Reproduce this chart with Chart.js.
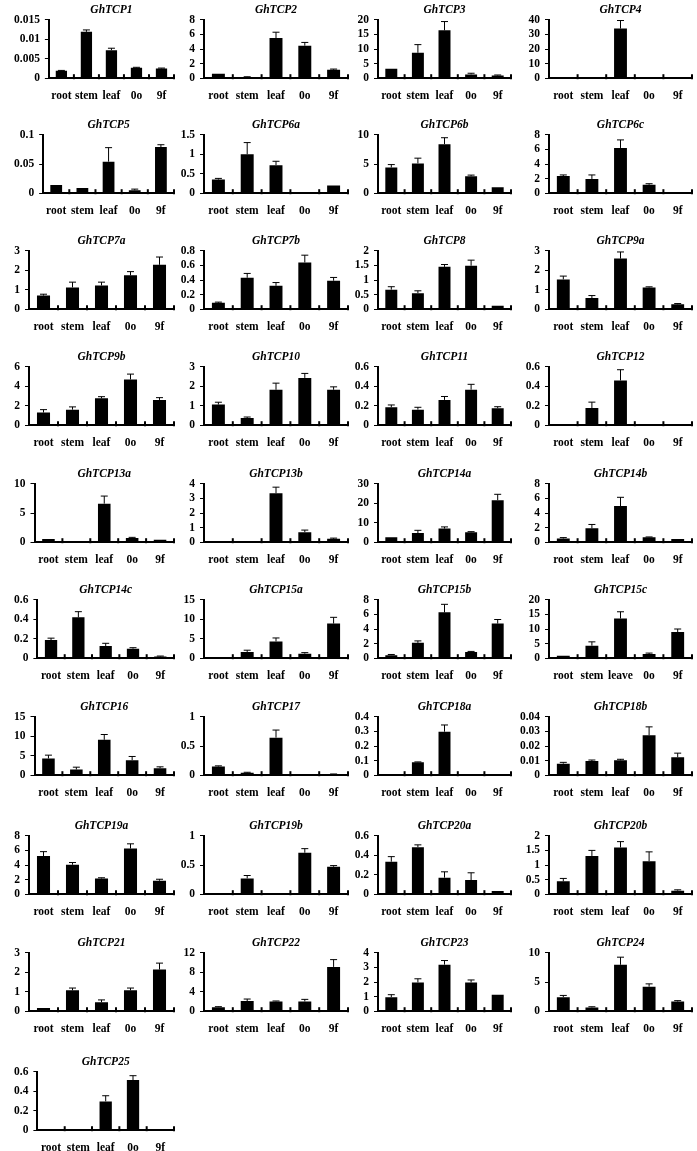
<!DOCTYPE html>
<html>
<head>
<meta charset="utf-8">
<script src="https://cdn.jsdelivr.net/npm/chart.js@4.4.1/dist/chart.umd.min.js"></script>
<style>
  html, body { margin: 0; padding: 0; background: #fff; overflow: hidden; }
  #grid { position: relative; width: 697px; height: 1151px; }
  .panel { position: absolute; }
  .panel canvas { display: block; }
</style>
</head>
<body>
<div id="grid"></div>
<script>
// tissues on the x axis (GhTCP15c is labelled "leave" in the figure)
const tissues = ['root', 'stem', 'leaf', '0o', '9f'];
const tissues15c = ['root', 'stem', 'leave', '0o', '9f'];

const genes = [
  'GhTCP1', 'GhTCP2', 'GhTCP3', 'GhTCP4',
  'GhTCP5', 'GhTCP6a', 'GhTCP6b', 'GhTCP6c',
  'GhTCP7a', 'GhTCP7b', 'GhTCP8', 'GhTCP9a',
  'GhTCP9b', 'GhTCP10', 'GhTCP11', 'GhTCP12',
  'GhTCP13a', 'GhTCP13b', 'GhTCP14a', 'GhTCP14b',
  'GhTCP14c', 'GhTCP15a', 'GhTCP15b', 'GhTCP15c',
  'GhTCP16', 'GhTCP17', 'GhTCP18a', 'GhTCP18b',
  'GhTCP19a', 'GhTCP19b', 'GhTCP20a', 'GhTCP20b',
  'GhTCP21', 'GhTCP22', 'GhTCP23', 'GhTCP24',
  'GhTCP25'
];

const axisMax = [
  0.015, 8, 20, 40,
  0.1, 1.5, 10, 8,
  3, 0.8, 2, 3,
  6, 3, 0.6, 0.6,
  10, 4, 30, 8,
  0.6, 15, 8, 20,
  15, 1, 0.4, 0.04,
  8, 1, 0.6, 2,
  3, 12, 4, 10,
  0.6
];

const axisStep = [
  0.005, 2, 5, 10,
  0.05, 0.5, 5, 2,
  1, 0.2, 0.5, 1,
  2, 1, 0.2, 0.2,
  5, 1, 10, 2,
  0.2, 5, 2, 5,
  5, 0.5, 0.1, 0.01,
  2, 0.5, 0.2, 0.5,
  1, 4, 1, 5,
  0.2
];

// relative expression: root, stem, leaf, 0o, 9f
const means = [
  [0.0019, 0.0119, 0.0072, 0.0027, 0.0025],
  [0.6, 0.15, 5.5, 4.45, 1.15],
  [3.2, 8.7, 16.4, 1.3, 0.9],
  [0, 0, 34, 0, 0],
  [0.014, 0.0088, 0.054, 0.005, 0.079],
  [0.35, 1.0, 0.72, 0, 0.2],
  [4.4, 5.1, 8.4, 2.9, 1.0],
  [2.35, 1.95, 6.2, 1.15, 0.1],
  [0.7, 1.12, 1.22, 1.74, 2.28],
  [0.087, 0.43, 0.32, 0.64, 0.39],
  [0.67, 0.55, 1.45, 1.49, 0.12],
  [1.53, 0.57, 2.6, 1.11, 0.25],
  [1.3, 1.6, 2.76, 4.7, 2.6],
  [1.06, 0.37, 1.82, 2.43, 1.82],
  [0.184, 0.16, 0.26, 0.365, 0.174],
  [0, 0.177, 0.46, 0, 0],
  [0.56, 0, 6.6, 0.73, 0.4],
  [0.05, 0.05, 3.35, 0.69, 0.23],
  [2.6, 4.7, 7.0, 5.06, 21.6],
  [0.5, 1.9, 4.95, 0.67, 0.45],
  [0.186, 0.42, 0.125, 0.098, 0.017],
  [0.18, 1.6, 4.3, 1.16, 8.9],
  [0.42, 2.1, 6.28, 0.84, 4.74],
  [0.8, 4.3, 13.6, 1.4, 8.95],
  [4.3, 1.46, 9.1, 3.86, 1.8],
  [0.148, 0.04, 0.643, 0.005, 0.016],
  [0.003, 0.088, 0.298, 0, 0.002],
  [0.0079, 0.0097, 0.0102, 0.0273, 0.0123],
  [5.23, 4.04, 2.15, 6.26, 1.85],
  [0, 0.27, 0, 0.71, 0.47],
  [0.334, 0.483, 0.17, 0.145, 0.034],
  [0.44, 1.31, 1.6, 1.13, 0.12],
  [0.17, 1.07, 0.46, 1.07, 2.14],
  [0.83, 2.08, 2.0, 2.0, 9.1],
  [0.96, 1.97, 3.19, 1.97, 1.13],
  [2.4, 0.64, 7.95, 4.2, 1.64],
  [0, 0, 0.296, 0.515, 0]
];

// upper error bars (SD)
const errors = [
  [0.0001, 0.0005, 0.0005, 0.0001, 0.0001],
  [0, 0.05, 0.8, 0.45, 0.1],
  [0, 2.8, 3.0, 0.4, 0.2],
  [0, 0, 5.5, 0, 0],
  [0, 0, 0.024, 0.002, 0.004],
  [0.03, 0.3, 0.1, 0, 0],
  [0.5, 0.9, 1.1, 0.2, 0],
  [0.15, 0.55, 1.1, 0.15, 0],
  [0.07, 0.27, 0.17, 0.19, 0.4],
  [0.01, 0.06, 0.045, 0.1, 0.045],
  [0.1, 0.08, 0.08, 0.19, 0],
  [0.17, 0.13, 0.34, 0.04, 0.04],
  [0.3, 0.28, 0.17, 0.55, 0.23],
  [0.12, 0.05, 0.34, 0.23, 0.15],
  [0.024, 0.024, 0.035, 0.055, 0.016],
  [0, 0.06, 0.11, 0, 0],
  [0, 0, 1.3, 0.1, 0],
  [0, 0, 0.42, 0.14, 0.05],
  [0, 1.4, 0.85, 0.35, 3.0],
  [0.13, 0.53, 1.2, 0.05, 0],
  [0.02, 0.058, 0.028, 0.01, 0.005],
  [0, 0.45, 0.9, 0.27, 1.6],
  [0.09, 0.27, 1.1, 0.09, 0.56],
  [0, 1.3, 2.3, 0.35, 1.05],
  [0.85, 0.6, 1.35, 0.95, 0.35],
  [0.012, 0.01, 0.13, 0, 0.005],
  [0, 0.003, 0.046, 0, 0],
  [0.0009, 0.0007, 0.0007, 0.0058, 0.0028],
  [0.6, 0.3, 0.1, 0.64, 0.2],
  [0, 0.05, 0, 0.07, 0.02],
  [0.052, 0.024, 0.06, 0.075, 0],
  [0.1, 0.19, 0.2, 0.32, 0.03],
  [0, 0.12, 0.12, 0.12, 0.33],
  [0.1, 0.42, 0.1, 0.43, 1.5],
  [0.17, 0.25, 0.28, 0.17, 0],
  [0.3, 0.12, 1.3, 0.48, 0.17],
  [0, 0, 0.058, 0.045, 0]
];

// page layout
const SERIF = '"Liberation Serif", "Times New Roman", serif';
const colLeft = [0, 176, 350, 520];
const colWidth = [178, 176, 165, 177];
const padLeft = [9, 0, 0, 0];
const padRight = [4, 4, 4, 5];
// y axis width: null = fit to labels (column 1), otherwise fixed
const yWidth = [null, 28, 28, 29];
const rowTop = [0, 115, 231, 347, 464, 580, 697, 816, 933, 1052];
const PANEL_H = 116;

// error bars: vertical line up from the bar top with a small cap
const errorBars = {
  id: 'errorBars',
  afterDatasetsDraw(chart, args, opts) {
    const ctx = chart.ctx;
    const y = chart.scales.y;
    const meta = chart.getDatasetMeta(0);
    const vals = chart.data.datasets[0].data;
    ctx.save();
    ctx.strokeStyle = '#000';
    ctx.lineWidth = 1;
    meta.data.forEach((bar, i) => {
      const e = opts.errors[i];
      if (!e) return;
      const top = y.getPixelForValue(vals[i] + e);
      ctx.beginPath();
      ctx.moveTo(bar.x, bar.y);
      ctx.lineTo(bar.x, top);
      ctx.moveTo(bar.x - 3.5, top);
      ctx.lineTo(bar.x + 3.5, top);
      ctx.stroke();
    });
    ctx.restore();
  }
};

// small tick marks pointing up from the x axis, at category boundaries
const innerTicks = {
  id: 'innerTicks',
  afterDraw(chart) {
    const ctx = chart.ctx;
    const x = chart.scales.x;
    const base = chart.chartArea.bottom;
    ctx.save();
    ctx.strokeStyle = '#000';
    ctx.lineWidth = 2;
    for (let i = 0; i < chart.data.labels.length; i++) {
      const px = x.getPixelForValue(i + 0.5);
      ctx.beginPath();
      ctx.moveTo(px, base + 1);
      ctx.lineTo(px, base - 4);
      ctx.stroke();
    }
    ctx.restore();
  }
};

function fmt(v) {
  return String(parseFloat(v.toFixed(6)));
}

const grid = document.getElementById('grid');

genes.forEach((gene, i) => {
  const col = i % 4;
  const row = Math.floor(i / 4);
  const box = document.createElement('div');
  box.className = 'panel';
  box.style.left = colLeft[col] + 'px';
  box.style.top = rowTop[row] + 'px';
  const canvas = document.createElement('canvas');
  canvas.width = colWidth[col];
  canvas.height = PANEL_H;
  box.appendChild(canvas);
  grid.appendChild(box);

  new Chart(canvas, {
    type: 'bar',
    data: {
      labels: gene === 'GhTCP15c' ? tissues15c : tissues,
      datasets: [{
        data: means[i],
        backgroundColor: '#000',
        borderWidth: 0,
        barPercentage: 0.45,
        categoryPercentage: 1
      }]
    },
    options: {
      responsive: false,
      animation: false,
      layout: { padding: { left: padLeft[col], right: padRight[col], top: 0, bottom: 2 } },
      plugins: {
        legend: { display: false },
        tooltip: { enabled: false },
        errorBars: { errors: errors[i] },
        title: {
          display: true,
          text: gene,
          fullSize: false,
          color: '#000',
          font: { family: SERIF, size: 11.5, weight: 'bold', style: 'italic' },
          padding: { top: 3, bottom: 3 }
        }
      },
      scales: {
        x: {
          grid: { display: false, drawTicks: false },
          border: { display: true, color: '#000', width: 2 },
          ticks: {
            color: '#000',
            font: { family: SERIF, size: 11.5, weight: 'bold' },
            padding: 11,
            autoSkip: false,
            maxRotation: 0
          }
        },
        y: {
          min: 0,
          max: axisMax[i],
          afterFit(scale) {
            scale.width = yWidth[col] === null ? Math.max(scale.width, 20) : yWidth[col];
          },
          grid: { drawOnChartArea: false, drawTicks: true, tickLength: 4, color: '#000', lineWidth: 1 },
          border: { display: true, color: '#000', width: 2 },
          ticks: {
            stepSize: axisStep[i],
            autoSkip: false,
            color: '#000',
            font: { family: SERIF, size: 11.5, weight: 'bold' },
            padding: 5,
            callback: fmt
          }
        }
      }
    },
    plugins: [errorBars, innerTicks]
  });
});
</script>
</body>
</html>
